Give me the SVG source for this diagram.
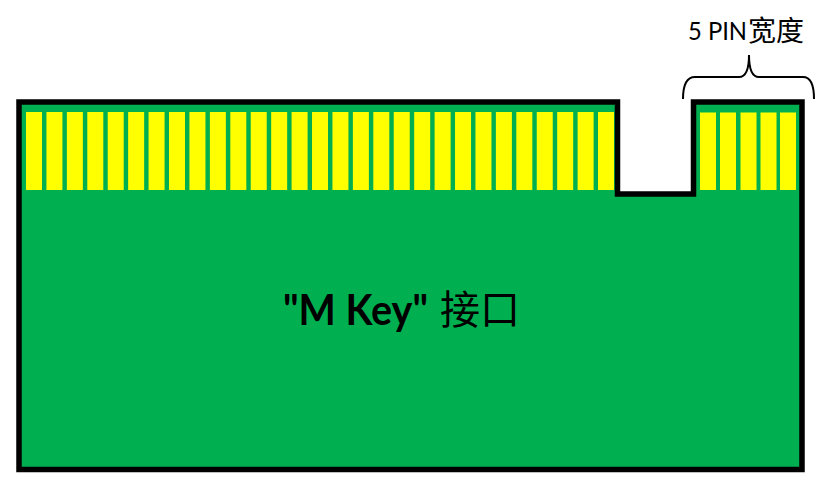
<svg xmlns="http://www.w3.org/2000/svg" width="822" height="484" viewBox="0 0 822 484">
  <style>
    .board { fill: #00B050; stroke: #000000; stroke-width: 5.5; stroke-linejoin: miter; }
    .pin { fill: #FFFF00; }
    .brace { fill: none; stroke: #000000; stroke-width: 2; }
    .lat { font-family: Lato, "Open Sans", "Liberation Sans", sans-serif; fill: #000000; }
    .cjk { font-family: "Noto Sans CJK SC", sans-serif; fill: #000000; }
  </style>
  <rect width="822" height="484" fill="#FFFFFF"/>
  <g id="board">
    <path class="board" d="M19,102 L617.5,102 L617.5,194 L693.5,194 L693.5,102 L802,102 L802,469.5 L19,469.5 Z"/>
  </g>
  <g id="pins-left">
    <rect class="pin" x="26" y="112" width="16" height="78"/>
    <rect class="pin" x="46.43" y="112" width="16" height="78"/>
    <rect class="pin" x="66.86" y="112" width="16" height="78"/>
    <rect class="pin" x="87.29" y="112" width="16" height="78"/>
    <rect class="pin" x="107.72" y="112" width="16" height="78"/>
    <rect class="pin" x="128.15" y="112" width="16" height="78"/>
    <rect class="pin" x="148.58" y="112" width="16" height="78"/>
    <rect class="pin" x="169.01" y="112" width="16" height="78"/>
    <rect class="pin" x="189.44" y="112" width="16" height="78"/>
    <rect class="pin" x="209.87" y="112" width="16" height="78"/>
    <rect class="pin" x="230.3" y="112" width="16" height="78"/>
    <rect class="pin" x="250.73" y="112" width="16" height="78"/>
    <rect class="pin" x="271.16" y="112" width="16" height="78"/>
    <rect class="pin" x="291.59" y="112" width="16" height="78"/>
    <rect class="pin" x="312.02" y="112" width="16" height="78"/>
    <rect class="pin" x="332.45" y="112" width="16" height="78"/>
    <rect class="pin" x="352.88" y="112" width="16" height="78"/>
    <rect class="pin" x="373.31" y="112" width="16" height="78"/>
    <rect class="pin" x="393.74" y="112" width="16" height="78"/>
    <rect class="pin" x="414.17" y="112" width="16" height="78"/>
    <rect class="pin" x="434.6" y="112" width="16" height="78"/>
    <rect class="pin" x="455.03" y="112" width="16" height="78"/>
    <rect class="pin" x="475.46" y="112" width="16" height="78"/>
    <rect class="pin" x="495.89" y="112" width="16" height="78"/>
    <rect class="pin" x="516.32" y="112" width="16" height="78"/>
    <rect class="pin" x="536.75" y="112" width="16" height="78"/>
    <rect class="pin" x="557.18" y="112" width="16" height="78"/>
    <rect class="pin" x="577.61" y="112" width="16" height="78"/>
    <rect class="pin" x="598" y="112" width="16" height="78"/>
  </g>
  <g id="pins-right">
    <rect class="pin" x="700" y="112.5" width="16" height="77.5"/>
    <rect class="pin" x="720" y="112.5" width="16" height="77.5"/>
    <rect class="pin" x="740.5" y="112.5" width="16" height="77.5"/>
    <rect class="pin" x="760.5" y="112.5" width="16" height="77.5"/>
    <rect class="pin" x="780" y="112.5" width="16" height="77.5"/>
  </g>
  <g id="connectors">
    <path class="brace" d="M683,99 Q683,77 695,77 L739,77 Q749,77 749,55 Q749,77 759,77 L803,77 Q814,77 814,99"/>
  </g>
  <g id="label-width">
    <text class="lat" x="688" y="39.5" font-size="24.5" textLength="59" lengthAdjust="spacingAndGlyphs">5 PIN</text>
    <text class="cjk" x="748" y="40.5" font-size="28">宽度</text>
  </g>
  <g id="label-main">
    <text class="lat" x="283" y="325" font-size="42" font-weight="bold" textLength="145" lengthAdjust="spacingAndGlyphs">"M Key"</text>
    <text class="cjk" x="440" y="324" font-size="40">接口</text>
  </g>
</svg>
